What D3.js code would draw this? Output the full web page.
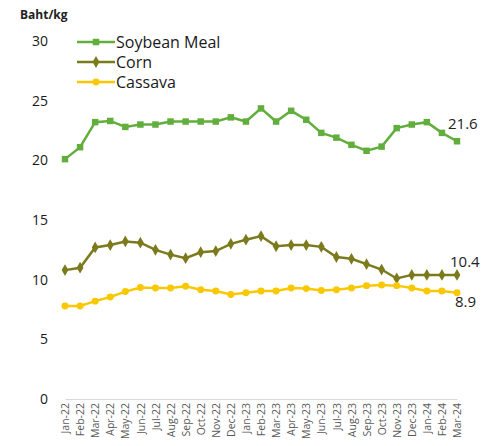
<!DOCTYPE html>
<html>
<head>
<meta charset="utf-8">
<script src="https://cdn.jsdelivr.net/npm/d3@7"></script>
<style>
  body { margin: 0; background: #fff; }
  text { font-family: "Open Sans", "DejaVu Sans", sans-serif; }
</style>
</head>
<body>
<svg id="chart" width="494" height="446"></svg>
<script>
// monthly prices, Baht/kg
const months = ["Jan-22","Feb-22","Mar-22","Apr-22","May-22","Jun-22","Jul-22","Aug-22","Sep-22","Oct-22","Nov-22","Dec-22",
  "Jan-23","Feb-23","Mar-23","Apr-23","May-23","Jun-23","Jul-23","Aug-23","Sep-23","Oct-23","Nov-23","Dec-23",
  "Jan-24","Feb-24","Mar-24"];
const soybean = [20.1,21.1,23.2,23.3,22.8,23.0,23.0,23.25,23.25,23.25,23.25,23.6,23.25,24.35,23.25,24.15,23.4,22.3,21.9,21.3,20.8,21.15,22.7,23.0,23.2,22.3,21.6];
const corn = [10.8,11.0,12.7,12.9,13.2,13.1,12.5,12.1,11.8,12.3,12.4,13.0,13.35,13.65,12.8,12.9,12.9,12.75,11.9,11.75,11.3,10.85,10.1,10.4,10.4,10.4,10.4];
const cassava = [7.8,7.8,8.2,8.55,9.0,9.35,9.3,9.3,9.45,9.15,9.05,8.75,8.9,9.05,9.05,9.3,9.25,9.1,9.15,9.3,9.5,9.55,9.5,9.3,9.05,9.05,8.9];
const yTicks = [0,5,10,15,20,25,30];

const svg = d3.select("#chart");
const x = d3.scalePoint().domain(months).range([65, 457]);
const y = d3.scaleLinear().domain([0, 30]).range([399, 41]);

svg.append("text").attr("x", 20).attr("y", 19)
  .attr("font-size", 12).attr("font-weight", "bold").attr("fill", "#222").text("Baht/kg");

// y labels (no axis line in the original)
svg.selectAll(".ylab").data(yTicks).enter().append("text")
  .attr("x", 48).attr("y", d => y(d)).attr("dy", "0.35em")
  .attr("text-anchor", "end").attr("font-size", 14).attr("fill", "#1a1a1a")
  .text(d => d);

// x axis
const xAxis = svg.append("g").attr("transform", "translate(0,399)")
  .call(d3.axisBottom(x).tickSize(0).tickPadding(4));
xAxis.select(".domain").attr("stroke", "#d9d9d9").attr("stroke-width", 1.2);
xAxis.selectAll("text")
  .attr("font-family", "Open Sans, sans-serif")
  .attr("font-size", 10.5).attr("fill", "#595959")
  .attr("transform", "rotate(-90)")
  .attr("text-anchor", "end")
  .attr("x", -4).attr("y", 0).attr("dy", "0.35em");

const series = [
  {name: "Soybean Meal", data: soybean, color: "#62ae3c", shape: d3.symbolSquare, size: 42},
  {name: "Corn", data: corn, color: "#7b7a1d", shape: d3.symbolDiamond, size: 40},
  {name: "Cassava", data: cassava, color: "#f9c802", shape: d3.symbolCircle, size: 38}
];

const line = d3.line().x((d, i) => x(months[i])).y(d => y(d));

series.forEach(s => {
  svg.append("path").datum(s.data)
    .attr("d", line).attr("fill", "none")
    .attr("stroke", s.color).attr("stroke-width", 2.5);
  svg.selectAll(null).data(s.data).enter().append("path")
    .attr("d", d3.symbol().type(s.shape).size(s.size))
    .attr("transform", (d, i) => "translate(" + x(months[i]) + "," + y(d) + ")")
    .attr("fill", s.color);
});

// end labels
svg.append("text").attr("x", 448).attr("y", 124).attr("dy", "0.35em").attr("font-size", 15).attr("fill", "#222").text("21.6");
svg.append("text").attr("x", 450).attr("y", 262).attr("dy", "0.35em").attr("font-size", 15).attr("fill", "#222").text("10.4");
svg.append("text").attr("x", 455).attr("y", 302).attr("dy", "0.35em").attr("font-size", 15).attr("fill", "#222").text("8.9");

// legend
const leg = svg.selectAll(".leg").data(series).enter().append("g")
  .attr("transform", (d, i) => "translate(77," + (42 + i * 20) + ")");
leg.append("line").attr("x1", 0).attr("x2", 38)
  .attr("stroke", d => d.color).attr("stroke-width", 2.5);
leg.append("path").attr("d", d => d3.symbol().type(d.shape).size(d.size)())
  .attr("transform", "translate(19,0)").attr("fill", d => d.color);
leg.append("text").attr("x", 39).attr("dy", "0.35em")
  .attr("font-size", 16).attr("fill", "#1a1a1a").text(d => d.name);
</script>
</body>
</html>
